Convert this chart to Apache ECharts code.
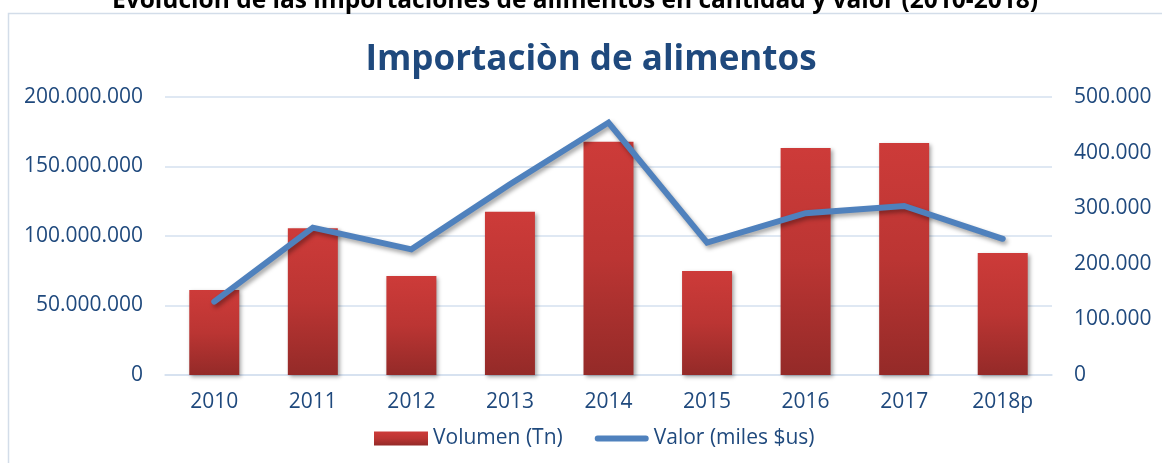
<!DOCTYPE html>
<html>
<head>
<meta charset="utf-8">
<script src="https://cdn.jsdelivr.net/npm/echarts@6/dist/echarts.min.js"></script>
<style>
  html, body { margin: 0; padding: 0; background: #ffffff; }
  #chart { width: 1162px; height: 463px; }
</style>
</head>
<body>
<div id="chart"></div>
<script>
const categories = ['2010', '2011', '2012', '2013', '2014', '2015', '2016', '2017', '2018p'];
const volumenTn = [61200000, 105500000, 71200000, 117500000, 167800000, 74800000, 163300000, 166900000, 87800000];
const valorMilesUs = [132000, 265000, 226000, 343000, 454000, 238000, 291000, 304000, 245000];
const leftTicks = { min: 0, max: 200000000, interval: 50000000 };
const rightTicks = { min: 0, max: 500000, interval: 100000 };
const topTitle = 'Evolución de las importaciones de alimentos en cantidad y valor (2010-2018)';
const mainTitle = 'Importaciòn de alimentos';
const seriesNames = ['Volumen (Tn)', 'Valor (miles $us)'];

const fmt = v => String(v).replace(/\B(?=(\d{3})+(?!\d))/g, '.');
const textColor = '#1f497d';
const font = '"Open Sans", "Noto Sans", sans-serif';

const chart = echarts.init(document.getElementById('chart'), null, { renderer: 'canvas' });
chart.setOption({
  backgroundColor: '#ffffff',
  animation: false,
  textStyle: { fontFamily: font },
  graphic: [
    {
      type: 'rect', z: -10, silent: true,
      shape: { x: 8.5, y: 13.5, width: 1200, height: 500 },
      style: { fill: '#ffffff', stroke: '#d3dde9', lineWidth: 1.5 }
    },
    {
      type: 'text', silent: true,
      style: {
        x: 575, y: 14, text: topTitle, align: 'center', verticalAlign: 'bottom',
        fill: '#000000', font: 'bold 24.5px ' + font
      }
    },
    {
      type: 'text', silent: true,
      style: {
        x: 591, y: 60, text: mainTitle, align: 'center', verticalAlign: 'middle',
        fill: textColor, font: 'bold 35px ' + font
      }
    }
  ],
  legend: {
    left: 374, top: 428, padding: 0,
    itemGap: 32, itemWidth: 54, itemHeight: 14,
    textStyle: { color: textColor, fontSize: 21, fontFamily: font },
    data: [
      { name: seriesNames[0], icon: 'rect' },
      { name: seriesNames[1], icon: 'path://M3,0 L53,0 A3,3 0 0 1 53,6 L3,6 A3,3 0 0 1 3,0 Z' }
    ]
  },
  grid: { left: 165, right: 110, top: 97, bottom: 88 },
  xAxis: {
    type: 'category',
    data: categories,
    axisLine: { show: true, lineStyle: { color: '#d5e0ef', width: 1.5 } },
    axisTick: { show: false },
    axisLabel: { color: textColor, fontSize: 21, margin: 17, fontFamily: font }
  },
  yAxis: [
    {
      type: 'value', min: leftTicks.min, max: leftTicks.max, interval: leftTicks.interval,
      axisLine: { show: false }, axisTick: { show: false },
      splitLine: { lineStyle: { color: '#d5e0ef', width: 1.5 } },
      axisLabel: { color: textColor, fontSize: 21, margin: 22, formatter: fmt, fontFamily: font }
    },
    {
      type: 'value', min: rightTicks.min, max: rightTicks.max, interval: rightTicks.interval,
      axisLine: { show: false }, axisTick: { show: false },
      splitLine: { show: false },
      axisLabel: { color: textColor, fontSize: 21, margin: 22, formatter: fmt, fontFamily: font }
    }
  ],
  series: [
    {
      name: seriesNames[0],
      type: 'bar',
      data: volumenTn,
      barWidth: 50,
      itemStyle: {
        color: new echarts.graphic.LinearGradient(0, 0, 0, 1, [
          { offset: 0, color: '#cd3b39' },
          { offset: 0.5, color: '#bb3533' },
          { offset: 1, color: '#942a28' }
        ]),
        shadowColor: 'rgba(0,0,0,0.35)', shadowBlur: 4, shadowOffsetX: 2, shadowOffsetY: 2
      }
    },
    {
      name: seriesNames[1],
      type: 'line',
      yAxisIndex: 1,
      data: valorMilesUs,
      symbol: 'none',
      z: 5,
      color: '#4f81bd',
      lineStyle: {
        color: '#4f81bd', width: 6, cap: 'round', join: 'miter',
        shadowColor: 'rgba(0,0,0,0.35)', shadowBlur: 4, shadowOffsetX: 2, shadowOffsetY: 3
      }
    }
  ]
});
</script>
</body>
</html>
